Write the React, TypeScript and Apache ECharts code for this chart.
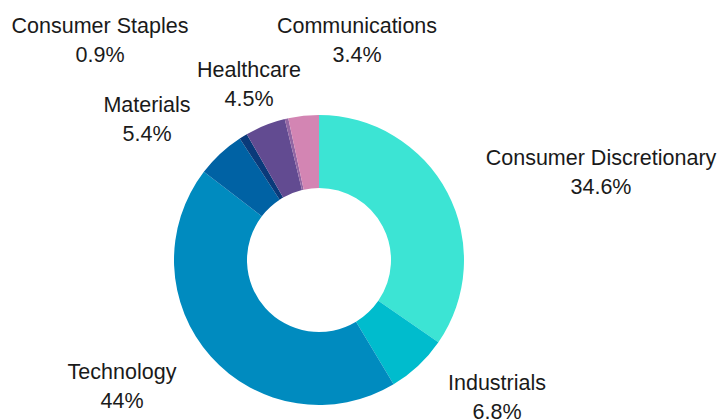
import React, { useEffect, useRef } from "react";
import * as echarts from "echarts";

const categories = [
  "Consumer Discretionary",
  "Industrials",
  "Technology",
  "Materials",
  "Consumer Staples",
  "Healthcare",
  "Other",
  "Communications",
];
const values = [34.6, 6.8, 44, 5.4, 0.9, 4.5, 0.4, 3.4];
const showLabel = [true, true, true, true, true, true, false, true];
const colors = [
  "#3ce4d4",
  "#00bccd",
  "#008bbf",
  "#0062a4",
  "#0a3a7a",
  "#624b91",
  "#9266a3",
  "#d385b3",
];
// label block centres (layout)
const labelCentres: [number, number][] = [
  [601, 172],
  [497, 397],
  [122, 386],
  [147, 119],
  [100, 40],
  [249, 84],
  [0, 0],
  [357, 40],
];

export default function App() {
  const ref = useRef<HTMLDivElement>(null);
  useEffect(() => {
    document.body.style.margin = "0";
    const chart = echarts.init(ref.current!, null, { renderer: "svg" });
    chart.setOption({
      animation: false,
      backgroundColor: "#ffffff",
      series: [
        {
          type: "pie",
          center: [319, 260],
          radius: [72, 145],
          startAngle: 90,
          clockwise: true,
          avoidLabelOverlap: false,
          labelLine: { show: false },
          label: {
            show: true,
            position: "outside",
            formatter: (p: any) => `{a|${p.name}}\n{a|${p.value}%}`,
            rich: {
              a: {
                fontFamily: "'Liberation Sans', Arial, sans-serif",
                fontSize: 21.5,
                lineHeight: 29,
                color: "#1a1a1a",
                align: "center",
              },
            },
          },
          labelLayout: (params: any) => {
            const c = labelCentres[params.dataIndex];
            return { x: c[0], y: c[1], align: "center", verticalAlign: "middle" };
          },
          data: categories.map((name, i) => ({
            name,
            value: values[i],
            itemStyle: { color: colors[i] },
            label: { show: showLabel[i] },
          })),
        },
      ],
    });
    return () => chart.dispose();
  }, []);
  return <div ref={ref} style={{ width: 719, height: 419 }} />;
}
